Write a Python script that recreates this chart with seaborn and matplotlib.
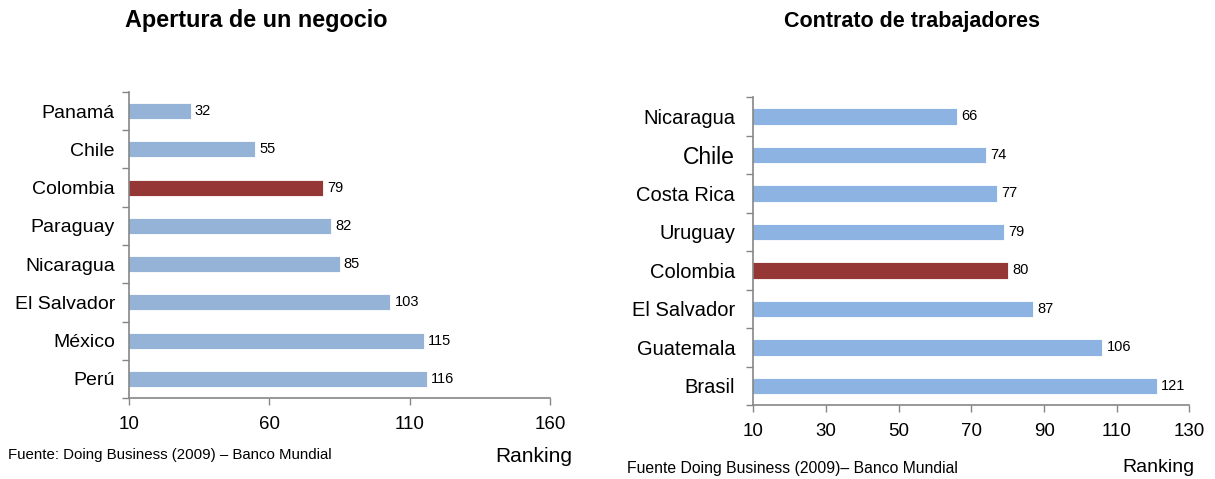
import matplotlib
matplotlib.use("Agg")
import matplotlib.pyplot as plt
import seaborn as sns
import pandas as pd
import numpy as np

# data
apertura_paises = ["Panamá", "Chile", "Colombia", "Paraguay", "Nicaragua", "El Salvador", "México", "Perú"]
apertura_ranking = [32, 55, 79, 82, 85, 103, 115, 116]

contrato_paises = ["Nicaragua", "Chile", "Costa Rica", "Uruguay", "Colombia", "El Salvador", "Guatemala", "Brasil"]
contrato_ranking = [66, 74, 77, 79, 80, 87, 106, 121]

apertura_ticks = [10, 60, 110, 160]
contrato_ticks = [10, 30, 50, 70, 90, 110, 130]

sns.set_theme(style="white")
plt.rcParams["font.family"] = ["Liberation Sans", "DejaVu Sans"]
plt.rcParams["text.color"] = "black"
plt.rcParams["xtick.color"] = "black"
plt.rcParams["ytick.color"] = "black"

AZUL_1 = "#95B3D7"
AZUL_2 = "#8DB3E2"
ROJO = "#953735"
GRIS = "#868686"


def panel(ax, paises, valores, ticks, azul, ylab_size, ypad, big=None):
    df = pd.DataFrame({"pais": paises, "ranking": valores})
    pal = {p: (ROJO if p == "Colombia" else azul) for p in paises}
    sns.barplot(data=df, x="ranking", y="pais", hue="pais", palette=pal,
                width=0.42, saturation=1, legend=False, ax=ax,
                edgecolor="white", linewidth=0.6)
    ax.set_xlim(ticks[0], ticks[-1])
    ax.set_ylim(len(paises) - 0.5, -0.5)
    ax.set_xticks(ticks)
    ax.set_xticklabels([str(t) for t in ticks], fontsize=13.5)
    ax.set_yticks(range(len(paises)))
    ax.set_yticklabels(paises, fontsize=ylab_size)
    if big:
        for lab in ax.get_yticklabels():
            if lab.get_text() == big:
                lab.set_fontsize(ylab_size + 2)
    ax.set_yticks(np.arange(-0.5, len(paises)), minor=True)
    ax.tick_params(axis="y", which="major", length=0, pad=ypad, colors="black")
    ax.tick_params(axis="y", which="minor", length=5, color=GRIS, width=1, direction="out", left=True)
    ax.tick_params(axis="x", length=5, color=GRIS, labelcolor="black", width=1, direction="out", bottom=True, pad=8)
    ax.set_xlabel("")
    ax.set_ylabel("")
    for s in ["top", "right"]:
        ax.spines[s].set_visible(False)
    for s in ["left", "bottom"]:
        ax.spines[s].set_color(GRIS)
        ax.spines[s].set_linewidth(1.2)
    for i, v in enumerate(valores):
        ax.text(v + 0.01 * (ticks[-1] - ticks[0]), i, str(v), va="center", ha="left", fontsize=10.5)


fig = plt.figure(figsize=(12.15, 4.79), dpi=100)
ax1 = fig.add_axes([0.106, 0.169, 0.347, 0.639])
ax2 = fig.add_axes([0.620, 0.154, 0.359, 0.643])

panel(ax1, apertura_paises, apertura_ranking, apertura_ticks, AZUL_1, 14, 10)
panel(ax2, contrato_paises, contrato_ranking, contrato_ticks, AZUL_2, 14.5, 13, big="Chile")

fig.text(256 / 1215, 1 - 20 / 479, "Apertura de un negocio", fontsize=16.8, fontweight="bold", ha="center", va="center")
fig.text(912 / 1215, 1 - 22 / 479, "Contrato de trabajadores", fontsize=15.5, fontweight="bold", ha="center", va="center")

fig.text(8 / 1215, 1 - 455 / 479, "Fuente: Doing Business (2009) – Banco Mundial", fontsize=10.8, ha="left", va="center")
fig.text(627 / 1215, 1 - 468 / 479, "Fuente Doing Business (2009)– Banco Mundial", fontsize=11.3, ha="left", va="center")
fig.text(572 / 1215, 1 - 457 / 479, "Ranking", fontsize=15, ha="right", va="center")
fig.text(1195 / 1215, 1 - 467 / 479, "Ranking", fontsize=14, ha="right", va="center")

fig.savefig("out.png", dpi=100, facecolor="white")
